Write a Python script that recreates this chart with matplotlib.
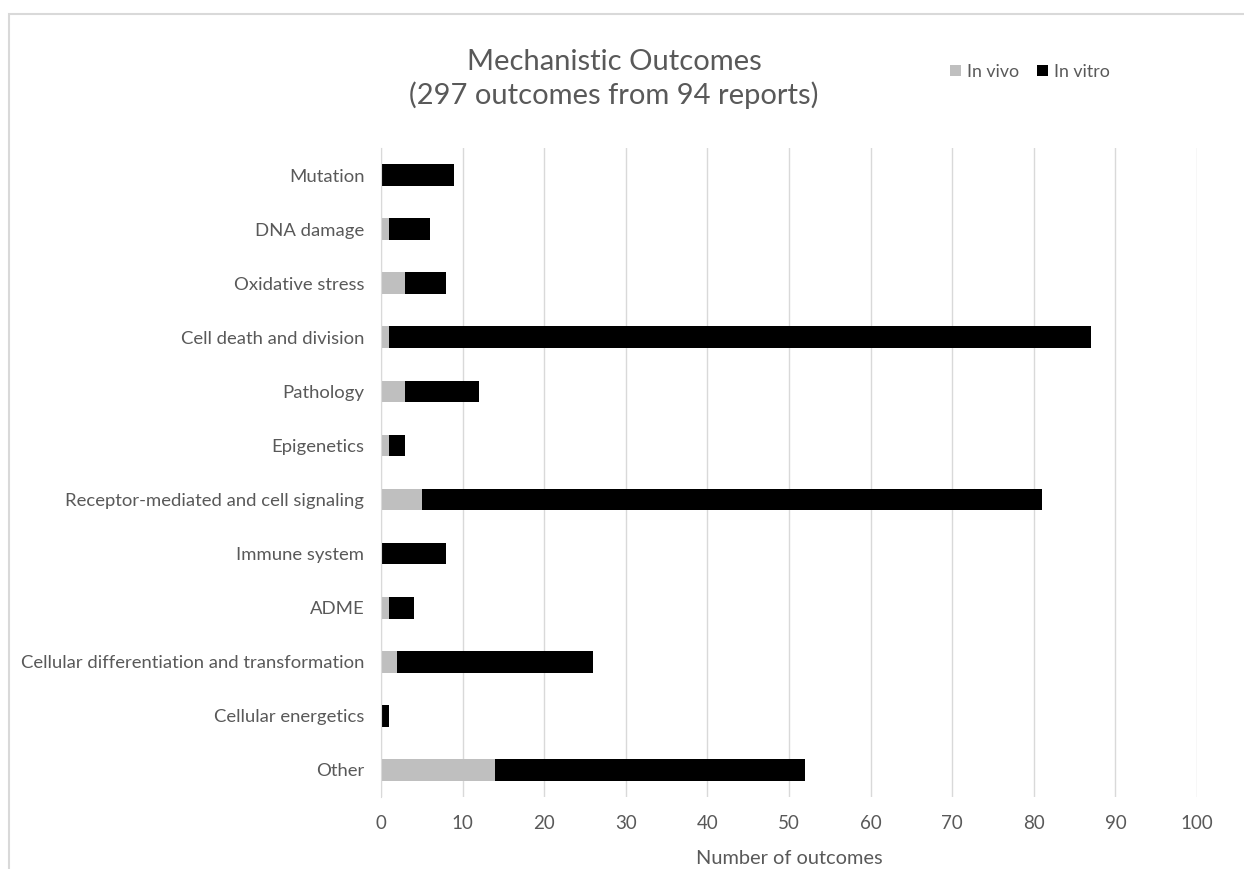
import matplotlib.pyplot as plt
from matplotlib.patches import Rectangle
import numpy as np

plt.rcParams['font.family'] = ['Lato', 'DejaVu Sans']

# categories top to bottom
categories = ['Mutation', 'DNA damage', 'Oxidative stress', 'Cell death and division',
              'Pathology', 'Epigenetics', 'Receptor-mediated and cell signaling',
              'Immune system', 'ADME', 'Cellular differentiation and transformation',
              'Cellular energetics', 'Other']
in_vivo = [0, 1, 3, 1, 3, 1, 5, 0, 1, 2, 0, 14]
in_vitro = [9, 5, 5, 86, 9, 2, 76, 8, 3, 24, 1, 38]
x_ticks = list(range(0, 101, 10))

fig = plt.figure(figsize=(12.44, 8.69), dpi=100)
ax = fig.add_axes([381/1244, 1 - 797/869, (1197 - 381)/1244, (797 - 148)/869])

y = np.arange(len(categories))
ax.barh(y, in_vivo, height=0.4, color='#BFBFBF', label='In vivo', zorder=3)
ax.barh(y, in_vitro, height=0.4, left=in_vivo, color='black', label='In vitro', zorder=3)

ax.set_ylim(len(categories) - 0.5, -0.5)
ax.set_xlim(0, 100)
ax.set_yticks(y)
ax.set_yticklabels(categories)
ax.set_xticks(x_ticks)
ax.tick_params(length=0, colors='#595959')
ax.tick_params(axis='x', pad=13, labelsize=13.5)
ax.tick_params(axis='y', pad=12, labelsize=13.3)
ax.grid(axis='x', color='#D9D9D9', linewidth=1, zorder=0)

for s in ['top', 'right', 'bottom']:
    ax.spines[s].set_visible(False)
ax.spines['left'].set_color('#D9D9D9')
ax.spines['left'].set_zorder(4)

ax.set_xlabel('Number of outcomes', fontsize=14.4, color='#595959', labelpad=13)

fig.text(614/1244, 1 - 79/869, 'Mechanistic Outcomes\n(297 outcomes from 94 reports)',
         ha='center', va='center', fontsize=21, color='#595959', linespacing=1.3)

leg = fig.legend(loc='center', bbox_to_anchor=(1030/1244, 1 - 72/869), ncol=2,
                 frameon=False, fontsize=12.8, handlelength=0.6, handleheight=0.6,
                 handletextpad=0.35, columnspacing=1.0)
for t in leg.get_texts():
    t.set_color('#595959')

# chart border
fig.patches.append(Rectangle((9/1244, -0.1), 1.2, 1.1 - 14/869, transform=fig.transFigure,
                             fill=False, edgecolor='#D9D9D9', linewidth=1.5))

fig.savefig('out.png', dpi=100)
